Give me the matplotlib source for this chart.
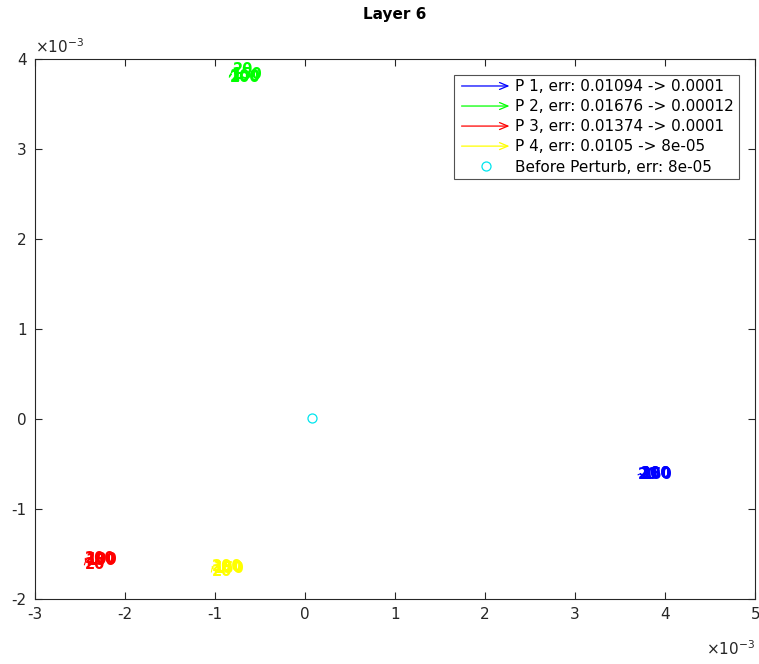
import matplotlib
matplotlib.use("Agg")
import matplotlib.pyplot as plt
from matplotlib.legend_handler import HandlerBase
from matplotlib.patches import FancyArrowPatch
from matplotlib.lines import Line2D

# iterations labelled along each perturbation trajectory
iters = [20, 100, 150, 200]

# trajectory positions (units of 1e-3)
p1_x = [3.70, 3.72, 3.74, 3.73]
p1_y = [-0.62, -0.61, -0.62, -0.61]
p2_x = [-0.80, -0.84, -0.82, -0.84]
p2_y = [3.88, 3.81, 3.83, 3.80]
p3_x = [-2.45, -2.43, -2.44, -2.44]
p3_y = [-1.62, -1.56, -1.57, -1.55]
p4_x = [-1.04, -1.03, -1.02, -1.03]
p4_y = [-1.70, -1.65, -1.66, -1.64]
before_x, before_y = 0.08, 0.01

series = [
    ("P 1, err: 0.01094 -> 0.0001", "#0000ff", p1_x, p1_y),
    ("P 2, err: 0.01676 -> 0.00012", "#00ff00", p2_x, p2_y),
    ("P 3, err: 0.01374 -> 0.0001", "#ff0000", p3_x, p3_y),
    ("P 4, err: 0.0105 -> 8e-05", "#ffff00", p4_x, p4_y),
]


class ArrowHandler(HandlerBase):
    def create_artists(self, legend, orig, xd, yd, w, h, fontsize, trans):
        a = FancyArrowPatch((xd, yd + h / 2), (xd + w, yd + h / 2),
                            arrowstyle="->,head_length=6,head_width=2.5",
                            color=orig.get_color(), lw=0.9, transform=trans)
        return [a]


fig = plt.figure(figsize=(7.59, 6.64), dpi=100)
ax = fig.add_axes([0.046, 0.098, 0.949, 0.813])

handles = []
sc = 1e-3
for label, col, xs, ys in series:
    ax.plot([x * sc for x in xs], [y * sc for y in ys], color=col, lw=0.8)
    for it, x, y in zip(iters, xs, ys):
        ax.text(x * sc, y * sc, str(it), color=col, fontsize=10.5,
                fontweight="bold", ha="left", va="center")
    handles.append(Line2D([], [], color=col, label=label))

h5, = ax.plot(before_x * sc, before_y * sc, "o", mfc="none", mec="#00e5ee",
              ms=6.5, mew=0.9, label="Before Perturb, err: 8e-05")
handles.append(h5)

ax.set_xlim(-3e-3, 5e-3)
ax.set_ylim(-2e-3, 4e-3)
ax.set_xticks([i * 1e-3 for i in range(-3, 6)])
ax.set_yticks([i * 1e-3 for i in range(-2, 5)])
ax.set_xticklabels([str(i) for i in range(-3, 6)])
ax.set_yticklabels([str(i) for i in range(-2, 5)])
ax.tick_params(direction="in", top=True, right=True, labelsize=11, length=5,
               colors="#262626", pad=6)
for s in ax.spines.values():
    s.set_color("#262626")
    s.set_linewidth(0.8)

ax.text(0.0, 1.005, r"$\times10^{-3}$", transform=ax.transAxes, fontsize=11,
        ha="left", va="bottom", color="#262626")
ax.text(1.0, -0.075, r"$\times10^{-3}$", transform=ax.transAxes, fontsize=11,
        ha="right", va="top", color="#262626")
ax.set_title("Layer 6", fontsize=11, fontweight="bold", pad=29)

hmap = {h: ArrowHandler() for h in handles[:4]}
leg = ax.legend(handles=handles, handler_map=hmap, loc="upper right",
                bbox_to_anchor=(0.977, 0.971), fontsize=11, frameon=True,
                fancybox=False, edgecolor="#262626", handlelength=3.5,
                handletextpad=0.2, borderpad=0.3, labelspacing=0.33,
                borderaxespad=0)
leg.get_frame().set_linewidth(0.8)

fig.savefig("out.png", dpi=100)
